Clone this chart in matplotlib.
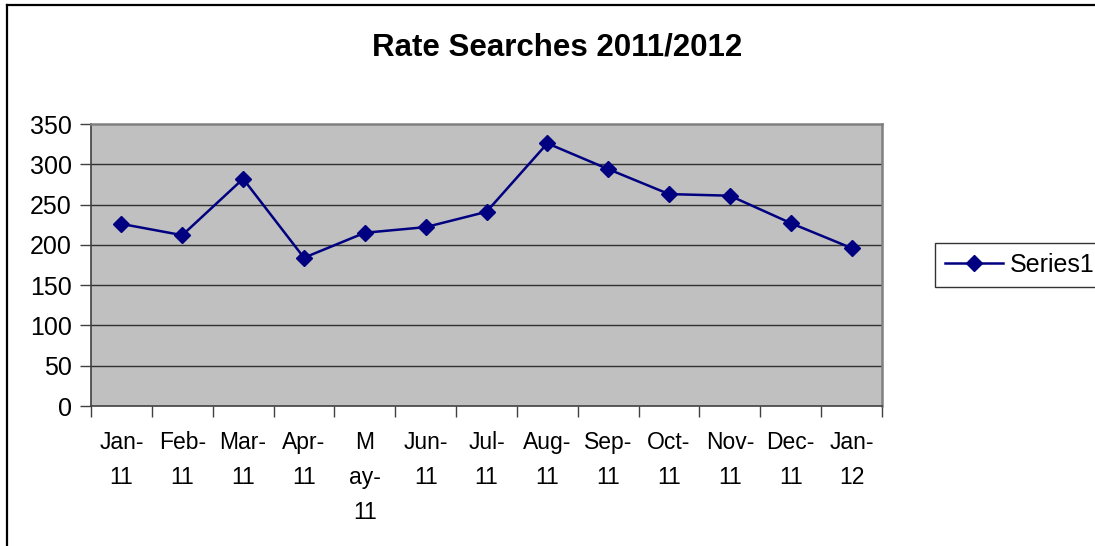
import matplotlib
matplotlib.use('Agg')
import matplotlib.pyplot as plt
from matplotlib import font_manager
from matplotlib.lines import Line2D

# Data
months = ['Jan-\n11', 'Feb-\n11', 'Mar-\n11', 'Apr-\n11', 'M\nay-\n11', 'Jun-\n11',
          'Jul-\n11', 'Aug-\n11', 'Sep-\n11', 'Oct-\n11', 'Nov-\n11', 'Dec-\n11', 'Jan-\n12']
searches = [226, 212, 282, 184, 215, 222, 241, 326, 294, 263, 261, 227, 196]
y_ticks = [0, 50, 100, 150, 200, 250, 300, 350]

installed = {f.name for f in font_manager.fontManager.ttflist}
base_font = 'Liberation Sans' if 'Liberation Sans' in installed else 'DejaVu Sans'
narrow_font = 'Liberation Sans Narrow' if 'Liberation Sans Narrow' in installed else None
plt.rcParams['font.family'] = [base_font, 'DejaVu Sans']

W, H = 1095, 546
fig = plt.figure(figsize=(W / 100, H / 100), dpi=100)
fig.patch.set_facecolor('white')

# axes box in pixel terms: x 91..882, y 124..406
ax = fig.add_axes([91 / W, 1 - 406 / H, (882 - 91) / W, (406 - 124) / H])
ax.set_facecolor('#C0C0C0')

x = list(range(len(months)))
line, = ax.plot(x, searches, color='#000080', lw=1.8, marker='D', markersize=8,
                markerfacecolor='#000080', markeredgecolor='#000080', zorder=3,
                label='Series1')

ax.set_xlim(-0.5, len(months) - 0.5)
ax.set_ylim(0, 350)
ax.set_yticks(y_ticks)
ax.set_yticklabels([str(v) for v in y_ticks], fontsize=18)

# categories centred between tick marks
ax.set_xticks([i - 0.5 for i in range(len(months) + 1)])
ax.set_xticklabels([])
ax.set_xticks(x, minor=True)
if narrow_font:
    ax.set_xticklabels(months, minor=True, fontsize=19, family=[narrow_font, 'DejaVu Sans'],
                       linespacing=1.5, va='top')
else:
    ax.set_xticklabels(months, minor=True, fontsize=16.5, linespacing=1.68, va='top')
ax.tick_params(axis='x', which='minor', length=0, pad=18)
ax.tick_params(axis='x', which='major', length=8, width=1, color='#404040', direction='out')
ax.tick_params(axis='y', length=8, width=1, color='#404040', direction='out', pad=6)

for v in y_ticks[1:-1]:
    ax.axhline(v, color='#303030', lw=1, zorder=1)

for side in ['left', 'bottom']:
    ax.spines[side].set_color('#404040')
    ax.spines[side].set_linewidth(1.2)
for side in ['top', 'right']:
    ax.spines[side].set_color('#808080')
    ax.spines[side].set_linewidth(1.8)

fig.text(557 / W, 1 - 47 / H, 'Rate Searches 2011/2012', ha='center', va='center',
         fontsize=22.5, fontweight='bold')

leg = fig.legend(handles=[line], loc='center left', bbox_to_anchor=(935 / W, 1 - 264.5 / H),
                 fontsize=18, frameon=True, fancybox=False, handlelength=2.3,
                 borderpad=0.4, handletextpad=0.3, borderaxespad=0)
leg.get_frame().set_edgecolor('black')
leg.get_frame().set_linewidth(1)

# outer chart frame (left and top edges visible)
fig.add_artist(Line2D([7 / W, 7 / W], [0, 1 - 5 / H], color='black', lw=1.6,
                      transform=fig.transFigure))
fig.add_artist(Line2D([7 / W, 1], [1 - 5 / H, 1 - 5 / H], color='black', lw=1.6,
                      transform=fig.transFigure))

fig.savefig('out.png', dpi=100)
